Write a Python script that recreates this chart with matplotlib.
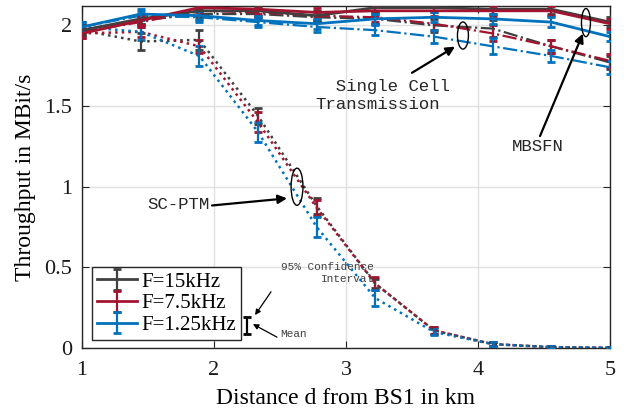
import numpy as np
import matplotlib.pyplot as plt
from matplotlib.patches import Ellipse

# distance of the user from BS1 in km
dist = [1.0, 1.444, 1.889, 2.333, 2.778, 3.222, 3.667, 4.111, 4.556, 5.0]

# MBSFN (solid)
mbsfn_15 = [1.97, 2.04, 2.09, 2.09, 2.06, 2.11, 2.11, 2.10, 2.10, 2.02]
mbsfn_75 = [1.95, 2.03, 2.11, 2.10, 2.08, 2.09, 2.09, 2.09, 2.09, 2.01]
mbsfn_125 = [1.99, 2.07, 2.06, 2.03, 2.01, 2.04, 2.05, 2.04, 2.02, 1.93]
# single cell transmission (dash-dot)
sc_15 = [1.97, 2.03, 2.07, 2.07, 2.05, 2.04, 2.00, 1.98, 1.87, 1.77]
sc_75 = [1.96, 2.02, 2.09, 2.08, 2.06, 2.05, 2.01, 1.95, 1.87, 1.78]
sc_125 = [1.99, 2.06, 2.05, 2.02, 1.99, 1.97, 1.93, 1.87, 1.81, 1.74]
# SC-PTM (dotted)
ptm_15 = [1.97, 1.90, 1.91, 1.44, 0.88, 0.40, 0.11, 0.025, 0.006, 0.002]
ptm_75 = [1.95, 1.96, 1.87, 1.40, 0.87, 0.40, 0.11, 0.025, 0.006, 0.002]
ptm_125 = [1.99, 1.96, 1.81, 1.34, 0.75, 0.31, 0.10, 0.025, 0.006, 0.002]

# 95% confidence half widths
err_top = [0.03, 0.03, 0.03, 0.03, 0.03, 0.03, 0.03, 0.03, 0.03, 0.03]
err_sc = [0.03, 0.03, 0.03, 0.03, 0.03, 0.03, 0.04, 0.05, 0.04, 0.04]
err_ptm_15 = [0.03, 0.05, 0.06, 0.05, 0.05, 0.03, 0.02, 0.01, 0.005, 0.003]
err_ptm_75 = [0.03, 0.03, 0.04, 0.06, 0.05, 0.04, 0.02, 0.01, 0.005, 0.003]
err_ptm_125 = [0.03, 0.05, 0.06, 0.06, 0.06, 0.05, 0.02, 0.01, 0.005, 0.003]

labels = ['F=15kHz', 'F=7.5kHz', 'F=1.25kHz']
colors = ['#404040', '#A2142F', '#0072BD']

serif = ['Liberation Serif', 'DejaVu Serif']
mono = ['Liberation Mono', 'DejaVu Sans Mono']

fig = plt.figure(figsize=(6.28, 4.12), dpi=100)
ax = fig.add_axes([0.1306, 0.155, 0.8407, 0.8305])

mbsfn = [mbsfn_15, mbsfn_75, mbsfn_125]
sc = [sc_15, sc_75, sc_125]
ptm = [ptm_15, ptm_75, ptm_125]
ptm_err = [err_ptm_15, err_ptm_75, err_ptm_125]

handles = []
for i in range(3):
    ax.errorbar(dist, ptm[i], yerr=ptm_err[i], color=colors[i], ls=':', lw=1.8,
                capsize=3, capthick=2, elinewidth=1.6, zorder=3)
for i in range(3):
    ax.errorbar(dist, sc[i], yerr=err_sc, color=colors[i], ls='-.', lw=1.6,
                capsize=3, capthick=2, elinewidth=1.6, zorder=4)
for i in range(3):
    h = ax.errorbar(dist, mbsfn[i], yerr=err_top, color=colors[i], ls='-', lw=2,
                    capsize=3, capthick=2, elinewidth=1.6, zorder=5, label=labels[i])
    handles.append(h)

ax.set_xlim(1, 5)
ax.set_ylim(0, 2.12)
ax.set_xticks([1, 2, 3, 4, 5])
ax.set_yticks([0, 0.5, 1, 1.5, 2])
ax.set_yticklabels(['0', '0.5', '1', '1.5', '2'])
ax.grid(True, color='#e0e0e0', lw=1)
ax.set_axisbelow(True)
ax.tick_params(direction='in', top=True, right=True, length=5, colors='#262626',
               labelsize=16, labelcolor='#1a1a1a')
ax.tick_params(axis='x', pad=9)
ax.tick_params(axis='y', pad=7)
for lab in ax.get_xticklabels() + ax.get_yticklabels():
    lab.set_family(serif)
for s in ax.spines.values():
    s.set_color('#262626')
    s.set_linewidth(1)

ax.set_xlabel('Distance d from BS1 in km', family=serif, fontsize=17, labelpad=6)
ax.set_ylabel('Throughput in MBit/s', family=serif, fontsize=17, labelpad=6)

leg = ax.legend(handles=handles, loc='lower left', bbox_to_anchor=(0.019, 0.023),
                borderaxespad=0, prop={'family': serif, 'size': 15}, labelspacing=0.1,
                handlelength=1.9, handletextpad=0.2, borderpad=0.25, fancybox=False,
                framealpha=1, edgecolor='#262626')
leg.get_frame().set_linewidth(1)

# ellipses marking the curve groups
ax.add_patch(Ellipse((2.629, 1.00), 0.09, 0.23, fill=False, lw=1, color='k', zorder=6))
ax.add_patch(Ellipse((3.886, 1.937), 0.083, 0.168, fill=False, lw=1, color='k', zorder=6))
ax.add_patch(Ellipse((4.818, 2.017), 0.068, 0.174, fill=False, lw=1, color='k', zorder=6))

arr = dict(arrowstyle='-|>', color='k', lw=1.6, mutation_scale=13, shrinkA=0, shrinkB=0)
ax.annotate('', xy=(3.826, 1.868), xytext=(3.5, 1.706), arrowprops=arr, zorder=7)
ax.text(2.765, 1.563, '  Single Cell\nTransmission', family=mono, fontsize=12.5,
        ha='left', va='center', color='#262626', linespacing=1.25)
ax.annotate('', xy=(4.795, 1.949), xytext=(4.47, 1.314), arrowprops=arr, zorder=7)
ax.text(4.455, 1.252, 'MBSFN', family=mono, fontsize=12.5, ha='center', va='center',
        color='#262626')
ax.annotate('', xy=(2.553, 0.928), xytext=(1.985, 0.884), arrowprops=arr, zorder=7)
ax.text(1.727, 0.89, 'SC-PTM', family=mono, fontsize=12.5, ha='center', va='center',
        color='#262626')

# confidence interval / mean explanation
ax.errorbar([2.25], [0.143], yerr=[0.053], color='k', lw=1.6, capsize=3, capthick=2,
            elinewidth=1.6, zorder=6)
ax.text(3.212, 0.464, '95% Confidence\nInterval', family=mono, fontsize=8, ha='right',
        va='center', multialignment='right', color='#404040', linespacing=1.3)
arr2 = dict(arrowstyle='-|>', color='k', lw=0.9, mutation_scale=8, shrinkA=0, shrinkB=0)
ax.annotate('', xy=(2.311, 0.205), xytext=(2.432, 0.349), arrowprops=arr2, zorder=7)
ax.annotate('', xy=(2.295, 0.149), xytext=(2.477, 0.068), arrowprops=arr2, zorder=7)
ax.text(2.5, 0.087, 'Mean', family=mono, fontsize=8, ha='left', va='center', color='#404040')

fig.savefig('out.png', dpi=100)
